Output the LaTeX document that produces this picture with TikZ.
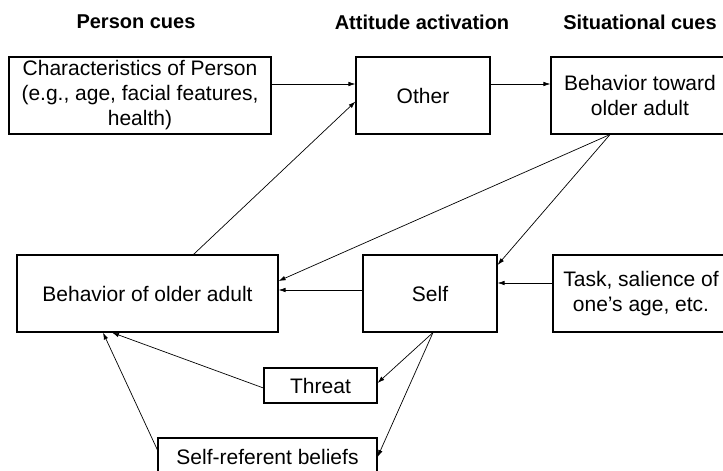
\documentclass[tikz,border=0pt]{standalone}
\usepackage{fontspec}
\setmainfont{Liberation Sans}
\usepackage{tikz}
\usetikzlibrary{arrows.meta,calc}

\begin{document}
\begin{tikzpicture}[
  x=1pt, y=-1pt,
  box/.style={rectangle, draw, line width=1.1pt, inner sep=0pt, align=center, font=\fontsize{21}{25}\selectfont},
  head/.style={font=\fontsize{20}{24}\selectfont\bfseries},
  arr/.style={-{Latex[length=7pt,width=4.5pt]}, line width=0.7pt}
]
\clip (0,0) rectangle (723,471);

% column heads
\node[head] (hperson) at (136,22) {Person cues};
\node[head] (hattit) at (422,22) {Attitude activation};
\node[head] (hsitu) at (640,22) {Situational cues};

% boxes
\node[box, minimum width=262pt, minimum height=77pt] (chars) at (140,95.5) {Characteristics of Person\\(e.g., age, facial features,\\health)};
\node[box, minimum width=134pt, minimum height=77pt] (other) at (423,95.5) {Other};
\node[box, minimum width=178pt, minimum height=77pt] (toward) at (640,95.5) {Behavior toward\\older adult};
\node[box, minimum width=261pt, minimum height=77pt] (behav) at (147.5,293.5) {Behavior of older adult};
\node[box, minimum width=134pt, minimum height=77pt] (self) at (430,293.5) {Self};
\node[box, minimum width=176pt, minimum height=77pt] (task) at (641,293.5) {Task, salience of\\one's age, etc.};
\node[box, minimum width=113pt, minimum height=35pt] (threat) at (320.5,385.5) {Threat};
\node[box, minimum width=219pt, minimum height=38pt] (beliefs) at (267.5,457) {Self-referent beliefs};

\coordinate (fork1) at ([xshift=-30pt]toward.south);
\coordinate (fork2) at ([xshift=3pt]self.south);

% connectors
\draw[arr] ([yshift=11.5pt]chars.east) -- ([yshift=11.5pt]other.west);
\draw[arr] ([yshift=11.5pt]other.east) -- ([yshift=11.5pt]toward.west);
\draw[arr] ([xshift=46pt]behav.north) -- ([yshift=-6pt]other.west);
\draw[arr] (fork1) -- ([yshift=12.5pt]behav.east);
\draw[arr] (fork1) -- ([yshift=28.5pt]self.east);
\draw[arr] ([yshift=10.5pt]task.west) -- ([yshift=10.5pt]self.east);
\draw[arr] ([yshift=3.5pt]self.west) -- ([yshift=3.5pt]behav.east);
\draw[arr] (fork2) -- ([yshift=2.5pt]threat.east);
\draw[arr] (fork2) -- (beliefs.east);
\draw[arr] ([yshift=-2.5pt]threat.west) -- ([xshift=-35.5pt]behav.south);
\draw[arr] ([yshift=7pt]beliefs.west) -- ([xshift=-44.5pt]behav.south);

\end{tikzpicture}
\end{document}
